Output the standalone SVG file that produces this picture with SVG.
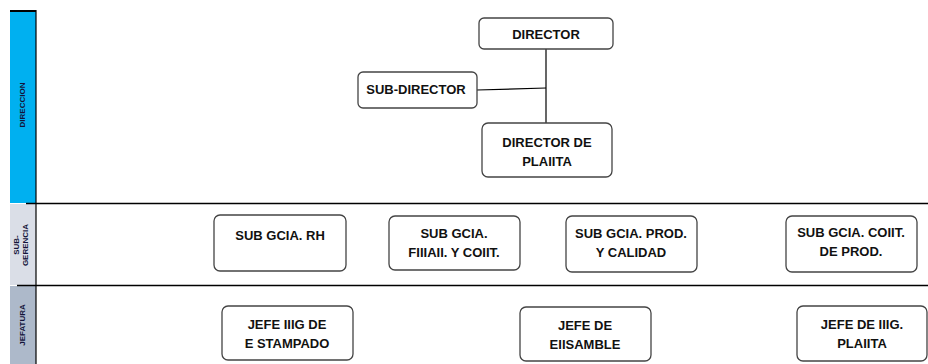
<svg xmlns="http://www.w3.org/2000/svg" width="928" height="364" viewBox="0 0 928 364">
<style>
.box{fill:#fff;stroke:#444;stroke-width:1.3}
.t{font-family:"Liberation Sans",Arial,sans-serif;font-weight:bold;font-size:13px;fill:#111;text-anchor:middle}
.lab{font-family:"Liberation Sans",Arial,sans-serif;font-weight:bold;font-size:8px;fill:#14143a;text-anchor:middle}
.ln{stroke:#000;stroke-width:1.2;fill:none}
</style>
<rect width="928" height="364" fill="#fff"/>
<g id="lanes">
<rect x="10" y="11" width="26" height="192" fill="#00b0f0"/>
<rect x="10" y="204" width="26" height="81" fill="#dadee7"/>
<rect x="10" y="286" width="26" height="78" fill="#adb9ca"/>
<line x1="10" y1="11" x2="36" y2="11" stroke="#000" stroke-width="2"/>
<line x1="36" y1="10" x2="36" y2="364" stroke="#000" stroke-width="1.2"/>
<line x1="26" y1="203.5" x2="928" y2="203.5" stroke="#000" stroke-width="1.5"/>
<line x1="17" y1="285.5" x2="928" y2="285.5" stroke="#000" stroke-width="1.5"/>
<text class="lab" transform="translate(25,105) rotate(-90)">DIRECCION</text>
<text class="lab" transform="translate(19,245) rotate(-90)">SUB-</text>
<text class="lab" transform="translate(28,245) rotate(-90)">GERENCIA</text>
<text class="lab" transform="translate(25,325) rotate(-90)">JEFATURA</text>
</g>
<g id="connectors">
<line class="ln" x1="546" y1="49" x2="546" y2="123"/>
<line class="ln" x1="477" y1="90" x2="546" y2="88"/>
</g>
<g id="director"><rect class="box" x="479" y="18" width="134" height="31" rx="5"/><text class="t" x="546" y="39">DIRECTOR</text></g>
<g id="subdirector"><rect class="box" x="358" y="72" width="119" height="36" rx="5"/><text class="t" x="416" y="94">SUB-DIRECTOR</text></g>
<g id="director-planta"><rect class="box" x="482" y="123" width="130" height="54" rx="6"/><text class="t" x="547" y="147">DIRECTOR DE</text><text class="t" x="547" y="166">PLAIITA</text></g>
<g id="sub-rh"><rect class="box" x="214" y="215" width="132" height="56" rx="6"/><text class="t" x="280" y="240">SUB GCIA.  RH</text></g>
<g id="sub-fin"><rect class="box" x="389" y="216" width="131" height="54" rx="6"/><text class="t" x="454" y="238">SUB GCIA.</text><text class="t" x="454" y="257">FIIIAII. Y COIIT.</text></g>
<g id="sub-prod"><rect class="box" x="566" y="216" width="131" height="56" rx="6"/><text class="t" x="631" y="238">SUB GCIA. PROD.</text><text class="t" x="631" y="257">Y CALIDAD</text></g>
<g id="sub-cont"><rect class="box" x="786" y="216" width="131" height="56" rx="6"/><text class="t" x="851" y="237">SUB GCIA. COIIT.</text><text class="t" x="851" y="256">DE PROD.</text></g>
<g id="jefe-estampado"><rect class="box" x="222" y="306" width="131" height="54" rx="6"/><text class="t" x="287" y="329">JEFE IIIG DE</text><text class="t" x="287" y="348">E STAMPADO</text></g>
<g id="jefe-ensamble"><rect class="box" x="520" y="307" width="131" height="54" rx="6"/><text class="t" x="585" y="330">JEFE DE</text><text class="t" x="585" y="349">EIISAMBLE</text></g>
<g id="jefe-planta"><rect class="box" x="797" y="306" width="130" height="55" rx="6"/><text class="t" x="862" y="329">JEFE DE IIIG.</text><text class="t" x="862" y="348">PLAIITA</text></g>
</svg>
